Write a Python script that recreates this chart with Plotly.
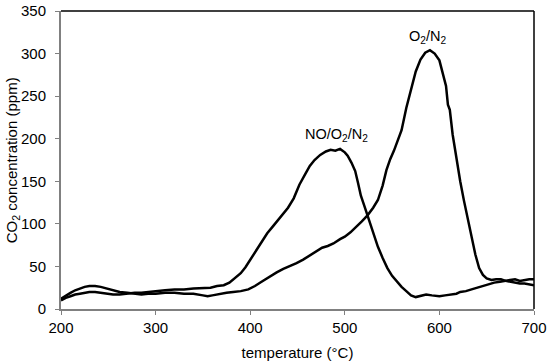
import plotly.graph_objects as go

# NO/O2/N2 series
no_T = [200, 205, 210, 215, 220, 225, 230, 236, 242, 248, 255, 262, 270, 278, 285, 292, 300, 310, 320, 330,
        340, 350, 358, 365, 372, 378, 385, 390, 395, 400, 406, 412, 418, 424, 430, 436, 440, 446, 452, 458,
        463, 468, 474, 480, 485, 490, 495, 500, 503, 507, 511, 514, 517, 521, 525, 530, 535, 540, 545, 550,
        555, 560, 565, 570, 575, 580, 586, 592, 600, 606, 612, 618, 622, 628, 634, 640, 646, 652, 658, 664,
        670, 676, 680, 685, 690, 695, 700]
no_v = [10, 13, 15, 17, 18, 19, 20, 20, 19, 18, 17, 17, 18, 19, 19, 20, 21, 22, 23, 23,
        24, 25, 25, 27, 28, 31, 37, 42, 49, 58, 69, 79, 89, 97, 105, 113, 119, 130, 146, 158,
        168, 175, 181, 185, 187, 186, 188, 184, 180, 172, 162, 148, 133, 120, 106, 88, 73, 60, 48, 39,
        32, 26, 21, 16, 14, 15, 17, 16, 15, 16, 17, 18, 20, 21, 23, 25, 27, 29, 31, 32,
        33, 34, 35, 33, 34, 35, 35]

# O2/N2 series
o2_T = [200, 205, 210, 215, 220, 225, 230, 236, 242, 248, 255, 262, 270, 278, 285, 292, 300, 310, 320, 330,
        340, 350, 355, 360, 368, 375, 382, 390, 398, 405, 412, 420, 428, 435, 442, 449, 456, 463, 470, 476,
        482, 488, 495, 500, 506, 512, 518, 524, 530, 535, 540, 544, 548, 552, 556, 560, 565, 570, 575, 580,
        585, 590, 595, 600, 604, 607, 609, 611, 614, 618, 622, 626, 630, 634, 638, 642, 646, 650, 655, 660,
        665, 670, 675, 680, 685, 690, 695, 700]
o2_v = [12, 16, 19, 22, 24, 26, 27, 27, 26, 24, 22, 20, 19, 18, 17, 18, 18, 19, 19, 18,
        18, 16, 15, 16, 18, 19, 20, 21, 23, 27, 32, 38, 43, 47, 51, 54, 58, 63, 67, 72,
        74, 77, 82, 85, 90, 96, 103, 110, 119, 128, 145, 163, 176, 186, 197, 210, 236, 259, 279, 293,
        301, 304, 300, 292, 276, 262, 240, 234, 205, 175, 150, 127, 105, 85, 64, 48, 40, 36, 34, 35,
        35, 33, 32, 31, 30, 30, 29, 28]

x_ticks = [200, 300, 400, 500, 600, 700]
y_ticks = [0, 50, 100, 150, 200, 250, 300, 350]

FONT = "Liberation Sans, Arial, sans-serif"

fig = go.Figure()
fig.add_trace(go.Scatter(x=no_T, y=no_v, mode="lines", name="NO/O2/N2",
                         line=dict(color="black", width=2.5)))
fig.add_trace(go.Scatter(x=o2_T, y=o2_v, mode="lines", name="O2/N2",
                         line=dict(color="black", width=2.5)))

fig.add_annotation(x=491, y=204, text="NO/O<sub>2</sub>/N<sub>2</sub>", showarrow=False,
                   font=dict(family=FONT, size=14.5, color="black"))
fig.add_annotation(x=587, y=319, text="O<sub>2</sub>/N<sub>2</sub>", showarrow=False,
                   font=dict(family=FONT, size=14.5, color="black"))

# y-axis title as rotated annotation
fig.add_annotation(xref="paper", yref="paper", x=-0.103, y=0.5, textangle=-90,
                   text="CO<sub>2</sub> concentration (ppm)", showarrow=False,
                   xanchor="center", yanchor="middle",
                   font=dict(family=FONT, size=15, color="black"))

# top and right frame lines
fig.add_shape(type="line", xref="paper", yref="paper", x0=0, x1=1, y0=1, y1=1,
              line=dict(color="black", width=1.5))
fig.add_shape(type="line", xref="paper", yref="paper", x0=1, x1=1, y0=0, y1=1,
              line=dict(color="black", width=1.5))

fig.update_layout(
    width=550, height=361,
    margin=dict(l=61, r=16, t=11, b=52),
    plot_bgcolor="white", paper_bgcolor="white",
    showlegend=False,
    font=dict(family=FONT, size=15, color="black"),
    xaxis=dict(range=[200, 700], tickvals=x_ticks, showgrid=False, zeroline=False,
               showline=True, linecolor="#808080", linewidth=2, automargin=False,
               ticks="outside", ticklen=4, tickcolor="#808080",
               title=dict(text="temperature (°C)", standoff=12, font=dict(size=15)),
               tickfont=dict(size=15)),
    yaxis=dict(range=[0, 350], tickvals=y_ticks, showgrid=False, zeroline=False,
               showline=True, linecolor="#808080", linewidth=2, automargin=False,
               ticks="outside", ticklen=4, tickcolor="#808080", ticklabelstandoff=6,
               tickfont=dict(size=15)),
)

fig.write_html("out.html", post_script="document.body.style.margin='0';",
               config={"displayModeBar": False})
